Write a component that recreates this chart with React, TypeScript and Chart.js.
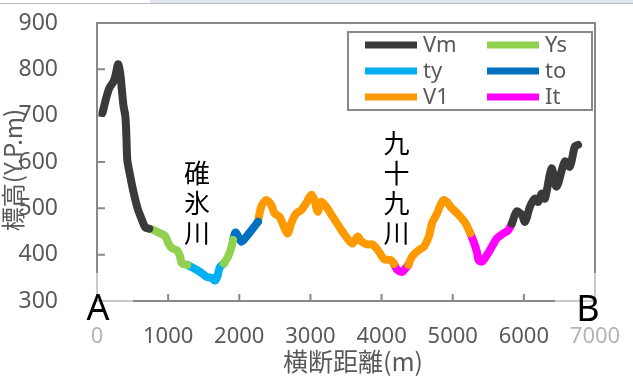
import React, { useEffect, useRef } from 'react';
import { Chart, registerables } from 'chart.js';
Chart.register(...registerables);

const FONT = '"Noto Sans", "Noto Sans CJK JP", sans-serif';
const CJK = '"Noto Sans CJK JP", "Noto Sans", sans-serif';

const seriesNames = ['Vm', 'Ys', 'ty', 'to', 'V1', 'It'];
const seriesColors = ['#3a3a3a', '#92d050', '#00b0f0', '#0070c0', '#ff9900', '#ff00ff'];

const xTickValues = [0, 1000, 2000, 3000, 4000, 5000, 6000, 7000];
const yTickValues = [300, 400, 500, 600, 700, 800, 900];

// Vm segments
const vm1X = [77, 133, 175, 231, 259, 287, 300, 329, 350, 371, 399, 413, 426, 450, 506, 571, 632, 678, 735];
const vm1Y = [706, 740, 760, 773, 786, 807, 811, 788, 755, 723, 698, 655, 604, 583, 540, 500, 475, 459, 456];
const vm2X = [5831, 5900, 5970, 6017, 6087, 6157, 6203, 6250, 6296, 6389, 6459, 6576, 6646, 6716, 6762];
const vm2Y = [467, 493, 486, 471, 504, 521, 514, 532, 521, 586, 547, 601, 590, 633, 637];
// Ys segments
const ys1X = [735, 795, 888, 958, 1005, 1052, 1121, 1168, 1192, 1270];
const ys1Y = [456, 453, 446, 440, 424, 414, 410, 396, 381, 378];
const ys2X = [1783, 1843, 1891, 1913];
const ys2Y = [381, 396, 417, 432];
// ty
const tyX = [1270, 1354, 1448, 1541, 1611, 1657, 1690, 1727, 1783];
const tyY = [378, 371, 363, 352, 350, 344, 352, 373, 381];
// to
const toX = [1913, 1950, 2030, 2100, 2193, 2263];
const toY = [432, 448, 428, 439, 457, 471];
// V1 segments
const v11X = [2263, 2310, 2380, 2450, 2497, 2566, 2636, 2683, 2730, 2800, 2870, 2940, 3010, 3056, 3102, 3150, 3220, 3312, 3406, 3500, 3592, 3662, 3720, 3800, 3871, 3965, 4035, 4129, 4175];
const v11Y = [471, 504, 518, 507, 489, 482, 457, 446, 468, 489, 496, 511, 529, 518, 493, 514, 504, 482, 460, 439, 424, 439, 428, 422, 422, 406, 390, 388, 380];
const v12X = [4375, 4431, 4524, 4594, 4664, 4710, 4780, 4874, 4990, 5084, 5178, 5248];
const v12Y = [378, 396, 410, 417, 439, 468, 489, 518, 500, 486, 468, 446];
// It segments
const it1X = [4175, 4221, 4291, 4338, 4375];
const it1Y = [380, 367, 363, 371, 378];
const it2X = [5248, 5294, 5340, 5364, 5410, 5480, 5550, 5620, 5713, 5783, 5831];
const it2Y = [446, 428, 406, 388, 385, 399, 417, 435, 446, 453, 467];

const riverLabels = ['碓氷川', '九十九川'];
const riverLabelX = [1405, 4210];

type Pt = { x: number; y: number | null };
const seg = (xs: number[], ys: number[]): Pt[] => xs.map((x, i) => ({ x, y: ys[i] }));
const join = (...parts: Pt[][]): Pt[] => {
  const out: Pt[] = [];
  parts.forEach((p, i) => {
    if (i > 0) {
      const prev = out[out.length - 1].x;
      out.push({ x: (prev + p[0].x) / 2, y: null });
    }
    out.push(...p);
  });
  return out;
};

const seriesData: Pt[][] = [
  join(seg(vm1X, vm1Y), seg(vm2X, vm2Y)),
  join(seg(ys1X, ys1Y), seg(ys2X, ys2Y)),
  seg(tyX, tyY),
  seg(toX, toY),
  join(seg(v11X, v11Y), seg(v12X, v12Y)),
  join(seg(it1X, it1Y), seg(it2X, it2Y)),
];

const deco = {
  id: 'deco',
  beforeDatasetsDraw(chart: any) {
    const { ctx, chartArea: a, scales } = chart;
    const x = scales.x, y = scales.y;
    ctx.save();
    ctx.strokeStyle = '#898989';
    ctx.lineWidth = 2;
    ctx.strokeRect(a.left, a.top, a.right - a.left, a.bottom - a.top);
    ctx.beginPath();
    for (const v of xTickValues) {
      const px = x.getPixelForValue(v);
      ctx.moveTo(px, a.bottom);
      ctx.lineTo(px, a.bottom - 7);
    }
    for (const v of yTickValues) {
      const py = y.getPixelForValue(v);
      ctx.moveTo(a.left, py);
      ctx.lineTo(a.left + 8, py);
    }
    ctx.stroke();
    ctx.restore();
  },
  afterDraw(chart: any) {
    const { ctx, chartArea: a, scales } = chart;
    const x = scales.x;
    ctx.save();
    // top frame band
    ctx.fillStyle = '#e2e7ef';
    ctx.fillRect(150, 0, 483, 3);
    ctx.fillStyle = '#b6bac2';
    ctx.fillRect(0, 3, 633, 1);

    // legend
    const lx = 348, ly = 32, lw = 244, lh = 78;
    ctx.fillStyle = '#ffffff';
    ctx.fillRect(lx, ly, lw, lh);
    ctx.strokeStyle = '#898989';
    ctx.lineWidth = 2;
    ctx.strokeRect(lx, ly, lw, lh);
    ctx.font = `22px ${FONT}`;
    ctx.textAlign = 'left';
    ctx.textBaseline = 'alphabetic';
    chart.data.datasets.forEach((ds: any, i: number) => {
      const col = i % 2, row = Math.floor(i / 2);
      const sx = lx + 17 + col * 122;
      const base = ly + 20 + row * 26;
      ctx.fillStyle = ds.borderColor;
      ctx.fillRect(sx, base - 10.5, 52, 7);
      ctx.fillStyle = '#595959';
      ctx.fillText(ds.label, sx + 58, base);
    });

    // river annotations (vertical text)
    ctx.fillStyle = '#000000';
    ctx.font = `26px ${CJK}`;
    ctx.textAlign = 'center';
    ctx.textBaseline = 'middle';
    riverLabels.forEach((t, k) => {
      const chars = Array.from(t);
      const px = x.getPixelForValue(riverLabelX[k]);
      chars.forEach((c, i) => {
        ctx.fillText(c, px, 233 - (chars.length - 1 - i) * 30);
      });
    });

    // axis titles
    ctx.fillStyle = '#595959';
    ctx.font = `25px ${CJK}`;
    ctx.textAlign = 'center';
    ctx.textBaseline = 'middle';
    ctx.fillText('横断距離(m)', 353, 361);
    ctx.font = `24px ${CJK}`;
    ctx.save();
    ctx.translate(13, 170);
    ctx.rotate(-Math.PI / 2);
    ctx.fillText('標高(Y.P.m)', 0, 0);
    ctx.restore();

    // A / B label boxes (semi transparent)
    ctx.fillStyle = 'rgba(255,255,255,0.55)';
    ctx.fillRect(72, a.bottom - 28, 61, 86);
    ctx.fillRect(555, a.bottom - 28, 78, 86);
    ctx.fillStyle = '#000000';
    ctx.font = `36px ${FONT}`;
    ctx.textAlign = 'center';
    ctx.textBaseline = 'alphabetic';
    ctx.fillText('A', 98, 320);
    ctx.fillText('B', 588, 321);
    ctx.restore();
  },
};

export default function App() {
  const ref = useRef<HTMLCanvasElement>(null);
  useEffect(() => {
    const chart = new Chart(ref.current as HTMLCanvasElement, {
      type: 'line',
      data: {
        datasets: seriesNames.map((name, i) => ({
          label: name,
          data: seriesData[i] as any,
          borderColor: seriesColors[i],
          backgroundColor: seriesColors[i],
          borderWidth: 8,
          borderCapStyle: 'round',
          borderJoinStyle: 'round',
          pointRadius: 0,
          tension: 0.3,
          spanGaps: false,
          fill: false,
        })),
      },
      options: {
        responsive: false,
        animation: false,
        events: [],
        layout: { padding: { top: 23, right: 38, left: 0, bottom: 0 } },
        plugins: { legend: { display: false }, tooltip: { enabled: false } },
        scales: {
          x: {
            type: 'linear',
            min: 0,
            max: 7000,
            afterFit: (s: any) => { s.height = 79; s.paddingLeft = 0; s.paddingRight = 0; },
            grid: { display: false },
            border: { display: false },
            ticks: {
              stepSize: 1000,
              autoSkip: false,
              maxRotation: 0,
              padding: 15,
              color: '#595959',
              font: { size: 22, family: FONT },
              callback: (v: any) => String(v),
            },
          },
          y: {
            type: 'linear',
            min: 300,
            max: 900,
            afterFit: (s: any) => { s.width = 97; s.paddingTop = 0; s.paddingBottom = 0; },
            grid: { display: false },
            border: { display: false },
            ticks: {
              stepSize: 100,
              padding: 31,
              color: '#595959',
              font: { size: 23, family: FONT },
              callback: (v: any) => String(v),
            },
          },
        },
      },
      plugins: [deco],
    });
    return () => chart.destroy();
  }, []);
  return (
    <div style={{ position: 'fixed', left: 0, top: 0, width: 633, height: 380, background: '#fff' }}>
      <canvas ref={ref} width={633} height={380} style={{ display: 'block' }} />
    </div>
  );
}
